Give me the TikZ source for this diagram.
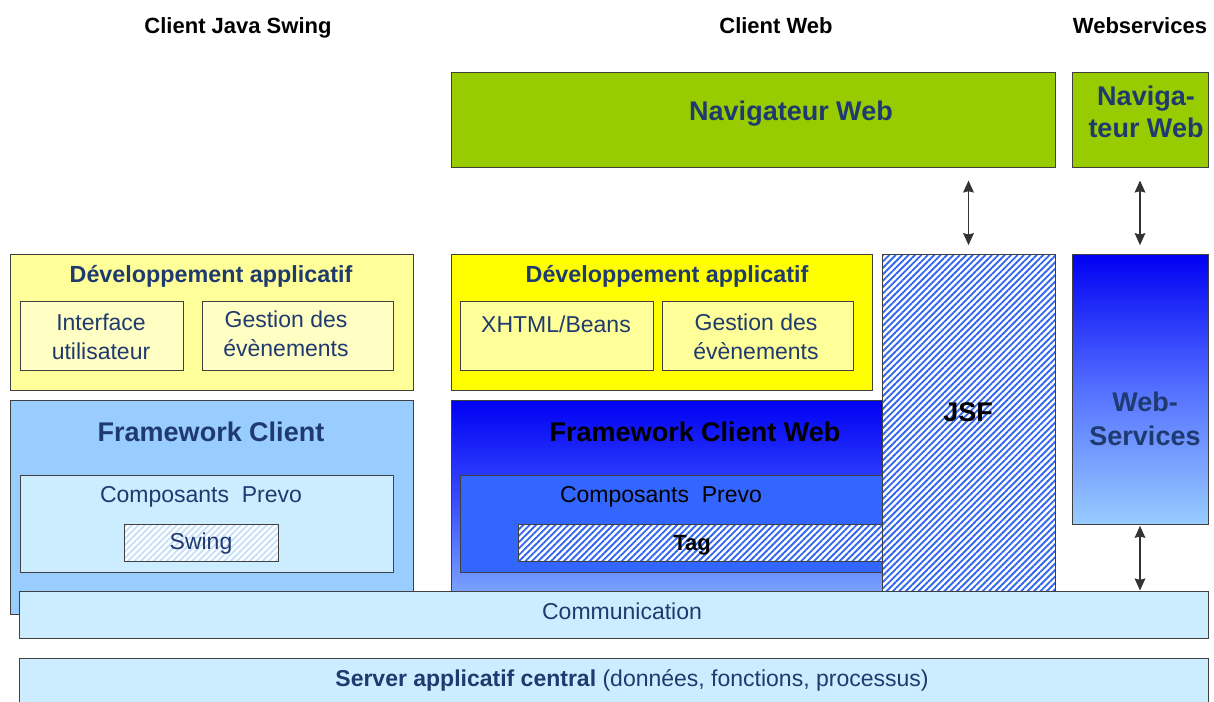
\documentclass[tikz,border=0pt]{standalone}
\usepackage{fontspec}
\setmainfont{Liberation Sans}
\usetikzlibrary{fit,arrows.meta,patterns.meta}
\definecolor{txt}{HTML}{1F3A6E}
\definecolor{bord}{HTML}{404040}
\definecolor{green1}{HTML}{99CC00}
\definecolor{yel1}{HTML}{FFFF99}
\definecolor{yel2}{HTML}{FFFFC4}
\definecolor{yel3}{HTML}{FFFF00}
\definecolor{lb1}{HTML}{99CCFF}
\definecolor{lb2}{HTML}{CCECFF}
\definecolor{mb}{HTML}{3366FF}
\definecolor{hb}{HTML}{3366EE}
\definecolor{hl}{HTML}{C4E0FA}
\begin{document}
\begin{tikzpicture}[x=0.75pt,y=-0.75pt,
  box/.style={draw=bord,line width=0.75pt,inner sep=0pt},
  hdr/.style={font=\bfseries\fontsize{16.5}{19}\selectfont,text=black,anchor=base},
  ttl/.style={font=\bfseries\fontsize{17.5}{21}\selectfont,text=txt},
  big/.style={font=\bfseries\fontsize{20.25}{23}\selectfont,text=txt,align=center},
  reg/.style={font=\fontsize{17.25}{21.75}\selectfont,text=txt,align=center},
  hatchB/.style={preaction={fill=white},pattern={Lines[angle=45,distance=3.4pt,line width=1.4pt]},pattern color=hb},
  hatchL/.style={preaction={fill=white},pattern={Lines[angle=45,distance=3.4pt,line width=1.4pt]},pattern color=hl},
  arr/.style={draw=black!80,line width=1.1pt,{Stealth[length=9pt,width=8pt,inset=1pt]}-{Stealth[length=9pt,width=8pt,inset=1pt]}}
]
\useasboundingbox (0,0) rectangle (1214,702);

% headers
\node[hdr] (h1) at (238,34) {Client Java Swing};
\node[hdr] (h2) at (776,34) {Client Web};
\node[hdr] (h3) at (1140,34) {Webservices};

% browsers
\node[box,fill=green1,fit={(451,73) (1055,168)}] (nav) {};
\node[big] (navt) at (791,114) {Navigateur Web};
\node[box,fill=green1,fit={(1072,73) (1208,168)}] (navs) {};
\node[big,font=\bfseries\fontsize{20.25}{24.5}\selectfont] (navst) at (1146,112) {Naviga-\\teur Web};

% left column
\node[box,fill=yel1,fit={(10,255) (413,390)}] (devL) {};
\node[ttl] (devLt) at (211,276) {Développement applicatif};
\node[box,fill=yel2,fit={(20,302) (183,370)}] (iu) {};
\node[reg] (iut) at (101,337) {Interface\\utilisateur};
\node[box,fill=yel2,fit={(202,302) (393,370)}] (geL) {};
\node[reg] (geLt) at (286,334) {Gestion des\\évènements};

\node[box,fill=lb1,fit={(10,400) (413,614)}] (fwc) {};
\node[big] (fwct) at (211,432) {Framework Client};
\node[box,fill=lb2,fit={(20,475) (393,572)}] (cpL) {};
\node[reg] (cpLt) at (201,497) {Composants\ \ Prevo};
\node[box,hatchL,fit={(124,524) (278,561)}] (sw) {};
\node[reg] (swt) at (201,544) {Swing};

% middle column
\node[box,fill=yel3,fit={(451,255) (872,390)}] (devM) {};
\node[ttl] (devMt) at (667,276) {Développement applicatif};
\node[box,fill=yel1,fit={(460,302) (653,370)}] (xh) {};
\node[reg] (xht) at (556,324) {XHTML/Beans};
\node[box,fill=yel1,fit={(662,302) (853,370)}] (geM) {};
\node[reg] (geMt) at (756,337) {Gestion des\\évènements};

\node[box,top color=blue!95!black,bottom color=lb1!90!blue,middle color=blue!60!lb1,fit={(451,400) (882,614)}] (fwcw) {};
\node[big,text=black] (fwcwt) at (695,432) {Framework Client Web};
\node[box,fill=mb,fit={(460,475) (882,572)}] (cpM) {};
\node[reg,text=black] (cpMt) at (661,497) {Composants\ \ Prevo};
\node[box,hatchB,fit={(518,524) (882,561)}] (tag) {};
\node[reg,font=\bfseries\fontsize{16.5}{20}\selectfont,text=black] (tagt) at (692,545) {Tag};

\node[box,hatchB,fit={(882,255) (1055,591)}] (jsf) {};
\node[big,text=black] (jsft) at (968,412) {JSF};

% webservices column
\node[box,top color=blue!95!black,bottom color=lb1,middle color=blue!45!lb1,fit={(1072,255) (1208,524)}] (ws) {};
\node[big,font=\bfseries\fontsize{20.25}{25}\selectfont] (wst) at (1145,419) {Web-\\Services};

% bottom bars
\node[box,fill=lb2,fit={(19,591) (1208,638)}] (comm) {};
\node[reg] (commt) at (622,611) {Communication};
\node[box,fill=lb2,fit={(19,658) (1208,706)}] (srv) {};
\node[reg] (srvt) at (632,680) {\textbf{Server applicatif central} (données,\ fonctions,\ processus)};

% arrows
\draw[arr] ([yshift=-9pt]nav.south -| jsf.north) -- ([yshift=7pt]jsf.north);
\draw[arr] ([yshift=-9pt]navs.south) -- ([yshift=7pt]ws.north);
\draw[arr] ([yshift=-1pt]ws.south) -- (ws.south |- comm.north);
\end{tikzpicture}
\end{document}
